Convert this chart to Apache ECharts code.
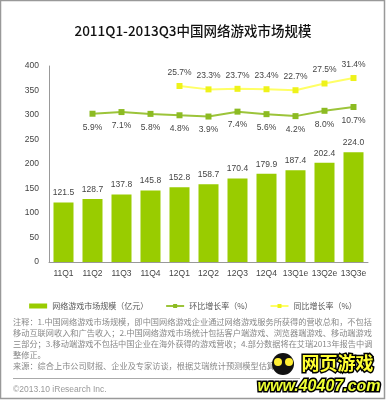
<!DOCTYPE html>
<html><head><meta charset="utf-8">
<script src="https://cdn.jsdelivr.net/npm/echarts@6/dist/echarts.min.js"></script>
<style>html,body{margin:0;padding:0;background:#fff}#c{width:386px;height:400px}</style>
</head><body><div id="c"></div>
<script>
const categories = ['11Q1','11Q2','11Q3','11Q4','12Q1','12Q2','12Q3','12Q4','13Q1e','13Q2e','13Q3e'];
const marketSize = [121.5,128.7,137.8,145.8,152.8,158.7,170.4,179.9,187.4,202.4,224.0];
const qoqGrowth = [null,5.9,7.1,5.8,4.8,3.9,7.4,5.6,4.2,8.0,10.7];
const yoyGrowth = [null,null,null,null,25.7,23.3,23.7,23.4,22.7,27.5,31.4];
const yTicks = [0,50,100,150,200,250,300,350,400];
const noteLines = [
 '注释：1.中国网络游戏市场规模，即中国网络游戏企业通过网络游戏服务所获得的营收总和，不包括',
 '移动互联网收入和广告收入；2.中国网络游戏市场统计包括客户端游戏、浏览器端游戏、移动端游戏',
 '三部分；3.移动端游戏不包括中国企业在海外获得的游戏营收；4.部分数据将在艾瑞2013年报告中调',
 '整修正。',
 '来源：综合上市公司财报、企业及专家访谈，根据艾瑞统计预测模型估算。'
];
const CJK = '"Noto Sans CJK SC", sans-serif';
const NUM = '"Liberation Sans", Arial, sans-serif';
const chart = echarts.init(document.getElementById('c'));
const graphics = [
  {type:'rect', shape:{x:0.5,y:0.5,width:384,height:398}, style:{fill:null, stroke:'#999', lineWidth:1.5}, z:100},
  {type:'line', shape:{x1:13,y1:378.5,x2:300,y2:378.5}, style:{stroke:'#aaa', lineWidth:1}},
  {type:'text', left:13, top:385, style:{text:'©2013.10 iResearch Inc.', font:'8.5px '+NUM, fill:'#999'}}
];
noteLines.forEach((t,i)=>{
  graphics.push({type:'text', left:13, top:318+i*11, style:{text:t, font:'8.2px '+CJK, fill:'#888'}});
});
graphics.push({type:'circle', shape:{cx:283,cy:364,r:11}, style:{fill:'#111'}, z:50});
graphics.push({type:'circle', shape:{cx:278,cy:362,r:4}, style:{fill:'#ffee33'}, z:51});
graphics.push({type:'circle', shape:{cx:289,cy:362,r:4}, style:{fill:'#ffee33'}, z:51});
graphics.push({type:'text', left:300, top:353, style:{text:'网页游戏', font:'bold 18px '+CJK, fill:'#ffff33', stroke:'#000', lineWidth:3}, z:52});
graphics.push({type:'text', left:256, top:377, style:{text:'www.40407.com', font:'italic bold 16px '+NUM, fill:'#eeff33', stroke:'#000', lineWidth:3}, z:52});

chart.setOption({
  animation:false,
  title:{text:'2011Q1-2013Q3中国网络游戏市场规模', left:'center', top:19, textStyle:{fontSize:13.5, fontWeight:500, color:'#111', fontFamily:CJK}},
  grid:{left:49, right:18, top:66, bottom:138},
  legend:{top:297, left:'center', itemGap:17, itemWidth:18, itemHeight:5,
    textStyle:{fontSize:8, color:'#555', fontFamily:CJK},
    data:[{name:'网络游戏市场规模（亿元）', icon:'rect'},{name:'环比增长率（%）'},{name:'同比增长率（%）'}]},
  xAxis:{type:'category', data:categories, axisLine:{lineStyle:{color:'#999'}}, axisTick:{show:false},
    axisLabel:{color:'#444', fontSize:8.5, fontFamily:NUM, margin:7, interval:0}},
  yAxis:[{type:'value', min:yTicks[0], max:yTicks[yTicks.length-1], interval:50, axisLine:{show:true, lineStyle:{color:'#999'}},
    axisTick:{show:false}, splitLine:{show:false}, axisLabel:{color:'#444', fontSize:8.5, fontFamily:NUM, margin:10}},
    {type:'value', min:-100, max:40, show:false, splitLine:{show:false}}],
  series:[
    {name:'网络游戏市场规模（亿元）', type:'bar', data:marketSize, barCategoryGap:'31%', itemStyle:{color:'#99cc00'},
      label:{show:true, position:'top', distance:5, color:'#444', fontSize:8.5, fontFamily:NUM, formatter:p=>p.value.toFixed(1)}},
    {name:'环比增长率（%）', type:'line', yAxisIndex:1, data:qoqGrowth, symbol:'rect', symbolSize:6,
      lineStyle:{color:'#9cc43a', width:2}, itemStyle:{color:'#8cbb22'},
      label:{show:true, position:'bottom', distance:6, color:'#444', fontSize:8.5, fontFamily:NUM, formatter:p=>p.value.toFixed(1)+'%'}},
    {name:'同比增长率（%）', type:'line', yAxisIndex:1, data:yoyGrowth, symbol:'rect', symbolSize:6,
      lineStyle:{color:'#ffff66', width:2}, itemStyle:{color:'#eef21a'},
      label:{show:true, position:'top', distance:6, color:'#444', fontSize:8.5, fontFamily:NUM, formatter:p=>p.value.toFixed(1)+'%'}}
  ],
  graphic:graphics
});
</script></body></html>
